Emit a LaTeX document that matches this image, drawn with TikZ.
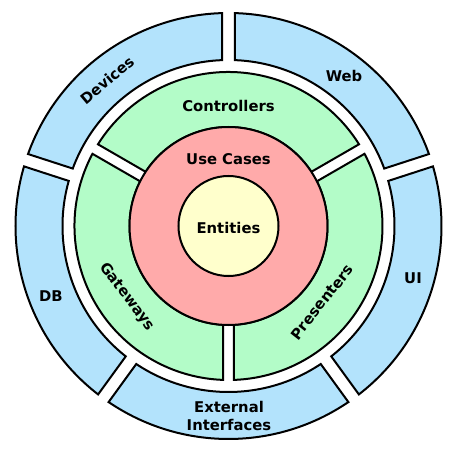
\documentclass[tikz,border=0pt]{standalone}
\usepackage{fontspec}
\setmainfont{DejaVu Sans}
\usepackage{xcolor}
\usepackage{tikz}

\definecolor{layerblue}{RGB}{179,227,252}
\definecolor{layergreen}{RGB}{179,252,200}
\definecolor{layerred}{RGB}{255,170,170}
\definecolor{layeryellow}{RGB}{255,255,204}

\begin{document}
\begin{tikzpicture}[
    x=1pt, y=1pt,
    ringtext/.style={font=\bfseries\fontsize{14.8}{18}\selectfont, align=center, inner sep=0pt},
    blueseg/.style={draw, line width=2pt, fill=layerblue},
    greenseg/.style={draw, line width=2pt, fill=layergreen},
    disc/.style={draw, line width=2pt}
  ]
    \useasboundingbox[fill=white] (-228.5,-229) rectangle (232.5,226);
    \coordinate (c) at (0,0);
    % outer ring: five pieces
    \foreach \a/\b in {18/90, 90/162, 162/234, 234/306, 306/378} {
      \pgfmathsetmacro{\dout}{asin(6.5/213)}
      \pgfmathsetmacro{\din}{asin(6.5/166)}
      \draw[blueseg] ({\a+\dout}:213) arc[start angle={\a+\dout}, end angle={\b-\dout}, radius=213]
        -- ({\b-\din}:166) arc[start angle={\b-\din}, end angle={\a+\din}, radius=166] -- cycle;
    }
    % middle ring: three pieces
    \foreach \a/\b in {30/150, 150/270, 270/390} {
      \pgfmathsetmacro{\dout}{asin(5.5/154)}
      \pgfmathsetmacro{\din}{asin(5.5/99)}
      \draw[greenseg] ({\a+\dout}:154) arc[start angle={\a+\dout}, end angle={\b-\dout}, radius=154]
        -- ({\b-\din}:99) arc[start angle={\b-\din}, end angle={\a+\din}, radius=99] -- cycle;
    }
    \draw[disc, fill=layerred] (c) circle[radius=99];
    \draw[disc, fill=layeryellow] (c) circle[radius=50];

    \node[ringtext, rotate=40] (devices) at (-121.5,146) {Devices};
    \node[ringtext] (web) at (115.5,150) {Web};
    \node[ringtext] (ui) at (184.5,-52) {UI};
    \node[ringtext] (db) at (-177.5,-70) {DB};
    \node[ringtext] (ext) at (0.5,-190) {External\\Interfaces};
    \node[ringtext] (controllers) at (0,120) {Controllers};
    \node[ringtext, rotate=-53] (gateways) at (-101.5,-71) {Gateways};
    \node[ringtext, rotate=52] (presenters) at (93.5,-76) {Presenters};
    \node[ringtext] (usecases) at (0,67) {Use Cases};
    \node[ringtext] (entities) at (0,-2) {Entities};
  \end{tikzpicture}
\end{document}
